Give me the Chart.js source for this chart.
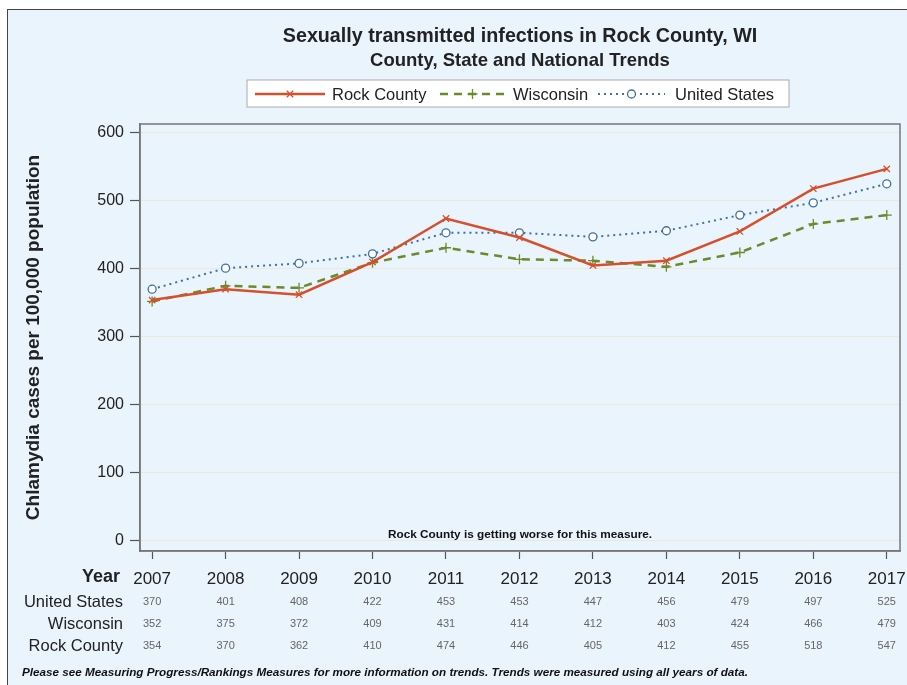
<!DOCTYPE html>
<html>
<head>
<meta charset="utf-8">
<script src="https://cdn.jsdelivr.net/npm/chart.js@4/dist/chart.umd.min.js"></script>
<style>
  html, body { margin: 0; padding: 0; background: #ffffff; overflow: hidden; }
  #frame {
    position: absolute; left: 7px; top: 9px; width: 920px; height: 700px;
    border: 1.5px solid #444; background: #eaf4fd;
  }
  #wrap { position: absolute; left: 0; top: 0; width: 907px; height: 685px; }
</style>
</head>
<body>
<div id="frame"></div>
<div id="wrap"><canvas id="myChart" width="907" height="685"></canvas></div>
<script>
// données
const years = [2007, 2008, 2009, 2010, 2011, 2012, 2013, 2014, 2015, 2016, 2017];
const unitedStates = [370, 401, 408, 422, 453, 453, 447, 456, 479, 497, 525];
const wisconsin = [352, 375, 372, 409, 431, 414, 412, 403, 424, 466, 479];
const rockCounty = [354, 370, 362, 410, 474, 446, 405, 412, 455, 518, 547];
const yTicks = [0, 100, 200, 300, 400, 500, 600];

const titleText = "Sexually transmitted infections in Rock County, WI";
const subtitleText = "County, State and National Trends";
const noteText = "Rock County is getting worse for this measure.";
const footText = "Please see Measuring Progress/Rankings Measures for more information on trends. Trends were measured using all years of data.";

const FONT = "'Liberation Sans', Arial, sans-serif";
const toPoints = arr => arr.map((v, i) => ({ x: years[i], y: v }));

// légende, titres et tableau dessinés à la main
const extras = {
  id: "extras",
  beforeDatasetsDraw(chart) {
    const { ctx, chartArea: a } = chart;
    ctx.save();
    ctx.strokeStyle = "#777";
    ctx.lineWidth = 1.5;
    ctx.strokeRect(a.left, a.top, a.right - a.left, a.bottom - a.top);
    ctx.restore();
  },
  afterDraw(chart) {
    const { ctx, chartArea: a } = chart;
    const xs = chart.scales.x;
    const cx = (a.left + a.right) / 2;
    ctx.save();
    ctx.textBaseline = "middle";
    ctx.fillStyle = "#222";
    ctx.textAlign = "center";
    ctx.font = "bold 19.7px " + FONT;
    ctx.fillText(titleText, cx, 37);
    ctx.font = "bold 18.5px " + FONT;
    ctx.fillText(subtitleText, cx, 61);

    // legend box
    ctx.fillStyle = "#ffffff";
    ctx.fillRect(247, 80, 542, 27);
    ctx.strokeStyle = "#aaa";
    ctx.lineWidth = 1;
    ctx.strokeRect(247, 80, 542, 27);
    const items = [
      { ds: chart.data.datasets[0], x0: 255, x1: 325, tx: 332 },
      { ds: chart.data.datasets[1], x0: 440, x1: 505, tx: 513 },
      { ds: chart.data.datasets[2], x0: 598, x1: 665, tx: 675 }
    ];
    const ly = 94;
    items.forEach(it => {
      const ds = it.ds;
      ctx.save();
      ctx.strokeStyle = ds.borderColor;
      ctx.lineWidth = ds.borderWidth;
      ctx.setLineDash(ds.borderDash || []);
      ctx.beginPath();
      ctx.moveTo(it.x0, ly);
      ctx.lineTo(it.x1, ly);
      ctx.stroke();
      ctx.setLineDash([]);
      ctx.strokeStyle = ds.borderColor;
      ctx.fillStyle = "#ffffff";
      ctx.lineWidth = 1.3;
      Chart.helpers.drawPoint(ctx, {
        pointStyle: ds.pointStyle, radius: ds.pointRadius, borderWidth: 1.3
      }, (it.x0 + it.x1) / 2, ly);
      ctx.restore();
      ctx.fillStyle = "#222";
      ctx.textAlign = "left";
      ctx.font = "16.5px " + FONT;
      ctx.fillText(ds.label, it.tx, ly + 1);
    });

    // note in plot
    ctx.textAlign = "center";
    ctx.fillStyle = "#111";
    ctx.font = "bold 11.8px " + FONT;
    ctx.fillText(noteText, cx, 535);

    // table under the axis
    ctx.textAlign = "right";
    ctx.font = "bold 18px " + FONT;
    ctx.fillStyle = "#222";
    ctx.fillText("Year", 120, 577);
    const rows = [
      { label: "United States", vals: unitedStates, y: 602 },
      { label: "Wisconsin", vals: wisconsin, y: 624 },
      { label: "Rock County", vals: rockCounty, y: 646 }
    ];
    rows.forEach(r => {
      ctx.textAlign = "right";
      ctx.fillStyle = "#222";
      ctx.font = "16.5px " + FONT;
      ctx.fillText(r.label, 123, r.y);
      ctx.textAlign = "center";
      ctx.fillStyle = "#666";
      ctx.font = "11px " + FONT;
      r.vals.forEach((v, i) => {
        ctx.fillText(String(v), xs.getPixelForValue(years[i]), r.y);
      });
    });

    ctx.textAlign = "left";
    ctx.fillStyle = "#111";
    ctx.font = "italic bold 11.7px " + FONT;
    ctx.fillText(footText, 22, 673);
    ctx.restore();
  }
};

const ctx = document.getElementById("myChart").getContext("2d");
const chart = new Chart(ctx, {
  type: "line",
  data: {
    datasets: [
      {
        label: "Rock County",
        data: toPoints(rockCounty),
        borderColor: "#d5502b",
        backgroundColor: "#d5502b",
        borderWidth: 2.5,
        pointStyle: "crossRot",
        pointRadius: 4.5,
        pointBorderWidth: 1.3,
        tension: 0
      },
      {
        label: "Wisconsin",
        data: toPoints(wisconsin),
        borderColor: "#6b8a2c",
        backgroundColor: "#6b8a2c",
        borderWidth: 2.5,
        borderDash: [8, 6],
        pointStyle: "cross",
        pointRadius: 5,
        pointBorderWidth: 1.3,
        tension: 0
      },
      {
        label: "United States",
        data: toPoints(unitedStates),
        borderColor: "#3f6fa8",
        backgroundColor: "#ffffff",
        pointBorderColor: "#3f6fa8",
        borderWidth: 2,
        borderDash: [2, 4],
        pointStyle: "circle",
        pointRadius: 4,
        pointBorderWidth: 1.3,
        tension: 0
      }
    ]
  },
  options: {
    responsive: false,
    animation: false,
    layout: { padding: { left: 0, top: 124, right: 7, bottom: 0 } },
    plugins: { legend: { display: false }, title: { display: false }, tooltip: { enabled: false } },
    scales: {
      x: {
        type: "linear",
        min: 2006.835,
        max: 2017.18,
        afterBuildTicks: s => { s.ticks = years.map(v => ({ value: v })); },
        afterFit: s => { s.height = 134; s.paddingLeft = 0; s.paddingRight = 0; },
        grid: { drawOnChartArea: false, tickLength: 8, tickColor: "#555", tickWidth: 1.2 },
        border: { color: "#777", width: 1.5 },
        ticks: {
          padding: 10,
          color: "#222",
          font: { family: FONT, size: 17 },
          callback: v => String(v),
          maxRotation: 0
        }
      },
      y: {
        min: -15,
        max: 613,
        afterBuildTicks: s => { s.ticks = yTicks.map(v => ({ value: v })); },
        afterFit: s => { s.width = 140; s.paddingTop = 0; s.paddingBottom = 0; },
        grid: { color: "#ece8da", tickColor: "#555", tickLength: 10, lineWidth: 1, tickWidth: 1.2 },
        border: { color: "#777", width: 1.5 },
        ticks: {
          padding: 6,
          color: "#222",
          font: { family: FONT, size: 16 }
        },
        title: {
          display: true,
          text: "Chlamydia cases per 100,000 population",
          color: "#222",
          font: { family: FONT, size: 19, weight: "bold" },
          padding: { top: 22, bottom: 0 }
        }
      }
    }
  },
  plugins: [extras]
});
</script>
</body>
</html>
